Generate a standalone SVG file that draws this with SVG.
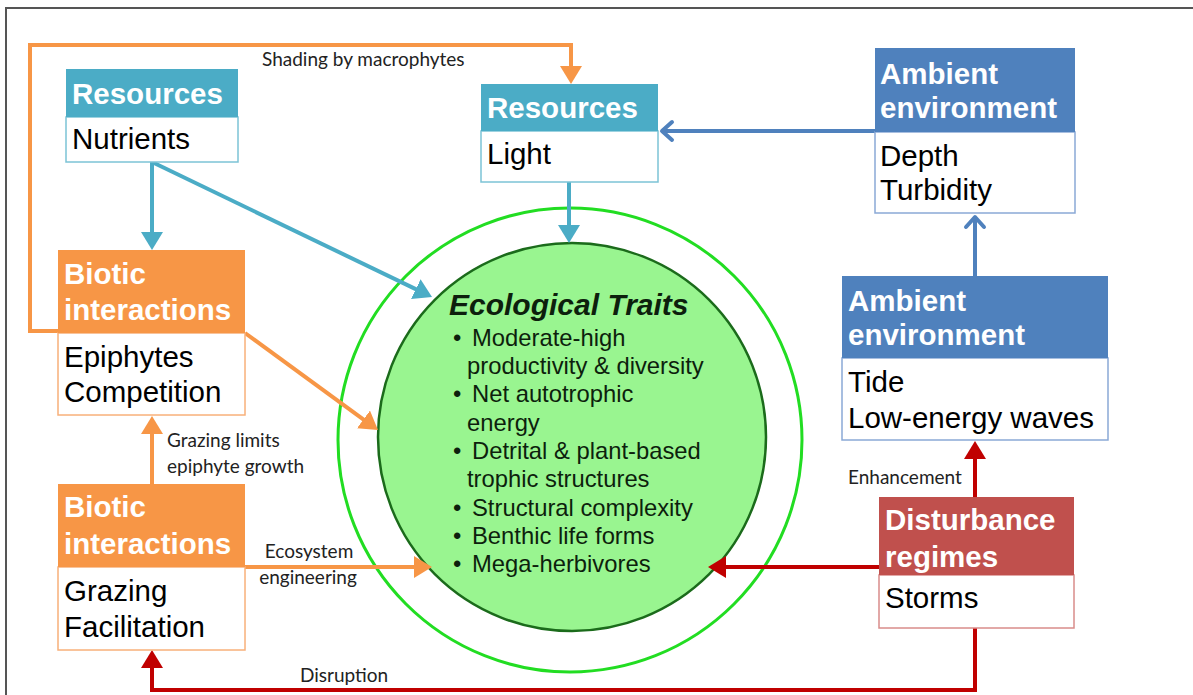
<svg xmlns="http://www.w3.org/2000/svg" width="1193" height="695" viewBox="0 0 1193 695">
<style>
.hd{font-family:"Liberation Sans",Arial,sans-serif;font-weight:bold;font-size:29.5px;fill:#fff}
.bd{font-family:"Liberation Sans",Arial,sans-serif;font-size:29.5px;fill:#000}
.lb{font-family:Lato,"Open Sans","Liberation Sans",sans-serif;font-size:19px;fill:#222}
.tr{font-family:"Liberation Sans",Arial,sans-serif;font-size:23.8px;fill:#0d1f0d}
.c{fill:none;stroke-width:4}
</style>
<defs>
<marker id="aT" markerUnits="userSpaceOnUse" markerWidth="20" markerHeight="22" refX="4" refY="11" orient="auto"><path d="M0,0L18,11L0,22Z" fill="#4bacc6"/></marker>
<marker id="aO" markerUnits="userSpaceOnUse" markerWidth="20" markerHeight="22" refX="4" refY="11" orient="auto"><path d="M0,0L18,11L0,22Z" fill="#f79646"/></marker>
<marker id="aR" markerUnits="userSpaceOnUse" markerWidth="20" markerHeight="22" refX="4" refY="11" orient="auto"><path d="M0,0L18,11L0,22Z" fill="#c00000"/></marker>
<marker id="aB" markerUnits="userSpaceOnUse" markerWidth="16" markerHeight="24" refX="13" refY="12" orient="auto"><path d="M3,3L13,12L3,21" fill="none" stroke="#4f81bd" stroke-width="4" stroke-linecap="round" stroke-linejoin="round"/></marker>
</defs>
<path d="M6,695V8H1193" fill="none" stroke="#555" stroke-width="2"/>

<g id="traits">
<circle cx="570" cy="440" r="232" fill="none" stroke="#22dd22" stroke-width="3"/>
<circle cx="572" cy="437" r="194" fill="#99f590" stroke="#1b6b1b" stroke-width="2.5"/>
<text x="449" y="315" style="font-family:'Liberation Sans',Arial,sans-serif;font-weight:bold;font-style:italic;font-size:30px;fill:#0d1f0d">Ecological Traits</text>
<text class="tr" x="453" y="346">•</text><text class="tr" x="472" y="346">Moderate-high</text>
<text class="tr" x="467" y="374">productivity &amp; diversity</text>
<text class="tr" x="453" y="402">•</text><text class="tr" x="472" y="402">Net autotrophic</text>
<text class="tr" x="467" y="431">energy</text>
<text class="tr" x="453" y="459">•</text><text class="tr" x="472" y="459">Detrital &amp; plant-based</text>
<text class="tr" x="467" y="487">trophic structures</text>
<text class="tr" x="453" y="516">•</text><text class="tr" x="472" y="516">Structural complexity</text>
<text class="tr" x="453" y="544">•</text><text class="tr" x="472" y="544">Benthic life forms</text>
<text class="tr" x="453" y="572">•</text><text class="tr" x="472" y="572">Mega-herbivores</text>
</g>

<g id="connectors">
<path class="c" stroke="#f79646" d="M58,331H30V45H571V70" marker-end="url(#aO)"/>
<path class="c" stroke="#4bacc6" d="M152,162V236" marker-end="url(#aT)"/>
<path class="c" stroke="#4bacc6" d="M152,162L419.4,290.9" marker-end="url(#aT)"/>
<path class="c" stroke="#4bacc6" d="M569,182V229" marker-end="url(#aT)"/>
<path class="c" stroke="#4f81bd" d="M875,131H662" marker-end="url(#aB)"/>
<path class="c" stroke="#4f81bd" d="M975,276V217" marker-end="url(#aB)"/>
<path class="c" stroke="#f79646" d="M245,333L366.7,421.8" marker-end="url(#aO)"/>
<path class="c" stroke="#f79646" d="M152,484V430" marker-end="url(#aO)"/>
<path class="c" stroke="#f79646" d="M245,567H418" marker-end="url(#aO)"/>
<path class="c" stroke="#c00000" d="M879,567H722" marker-end="url(#aR)"/>
<path class="c" stroke="#c00000" d="M975,497V455" marker-end="url(#aR)"/>
<path class="c" stroke="#c00000" d="M975,628V690H152V664" marker-end="url(#aR)"/>
<text class="lb" x="262" y="66">Shading by macrophytes</text>
<text class="lb" x="167" y="447">Grazing limits</text>
<text class="lb" x="167" y="473">epiphyte growth</text>
<text class="lb" x="309" y="558" text-anchor="middle">Ecosystem</text>
<text class="lb" x="308" y="584" text-anchor="middle">engineering</text>
<text class="lb" x="848" y="484">Enhancement</text>
<text class="lb" x="300" y="682">Disruption</text>
</g>

<g id="res-nutrients">
<rect x="66" y="117" width="172" height="45" fill="#fff" stroke="#7cc3d6" stroke-width="1.5"/>
<rect x="66" y="69" width="172" height="48" fill="#4bacc6"/>
<text class="hd" x="72" y="104">Resources</text>
<text class="bd" x="72" y="149">Nutrients</text>
</g>

<g id="res-light">
<rect x="481" y="131" width="177" height="51" fill="#fff" stroke="#7cc3d6" stroke-width="1.5"/>
<rect x="481" y="84" width="177" height="47" fill="#4bacc6"/>
<text class="hd" x="487" y="118">Resources</text>
<text class="bd" x="487" y="164">Light</text>
</g>

<g id="amb-top">
<rect x="875" y="132" width="200" height="81" fill="#fff" stroke="#8aa9d6" stroke-width="1.5"/>
<rect x="875" y="48" width="200" height="84" fill="#4f81bd"/>
<text class="hd" x="880" y="84">Ambient</text>
<text class="hd" x="880" y="118">environment</text>
<text class="bd" x="880" y="166">Depth</text>
<text class="bd" x="880" y="200">Turbidity</text>
</g>

<g id="amb-bottom">
<rect x="842" y="358" width="266" height="82" fill="#fff" stroke="#8aa9d6" stroke-width="1.5"/>
<rect x="842" y="276" width="266" height="82" fill="#4f81bd"/>
<text class="hd" x="848" y="311">Ambient</text>
<text class="hd" x="848" y="345">environment</text>
<text class="bd" x="848" y="392">Tide</text>
<text class="bd" x="848" y="428">Low-energy waves</text>
</g>

<g id="biotic-top">
<rect x="58" y="333" width="187" height="82" fill="#fff" stroke="#f8b07a" stroke-width="1.5"/>
<rect x="58" y="250" width="187" height="83" fill="#f79646"/>
<text class="hd" x="64" y="284">Biotic</text>
<text class="hd" x="64" y="320">interactions</text>
<text class="bd" x="64" y="367">Epiphytes</text>
<text class="bd" x="64" y="402">Competition</text>
</g>

<g id="biotic-bottom">
<rect x="58" y="567" width="187" height="83" fill="#fff" stroke="#f8b07a" stroke-width="1.5"/>
<rect x="58" y="484" width="187" height="83" fill="#f79646"/>
<text class="hd" x="64" y="517">Biotic</text>
<text class="hd" x="64" y="554">interactions</text>
<text class="bd" x="64" y="601">Grazing</text>
<text class="bd" x="64" y="637">Facilitation</text>
</g>

<g id="disturbance">
<rect x="879" y="575" width="195" height="53" fill="#fff" stroke="#d98c8a" stroke-width="1.5"/>
<rect x="879" y="497" width="195" height="78" fill="#c0504d"/>
<text class="hd" x="885" y="530">Disturbance</text>
<text class="hd" x="885" y="567">regimes</text>
<text class="bd" x="885" y="608">Storms</text>
</g>
</svg>
